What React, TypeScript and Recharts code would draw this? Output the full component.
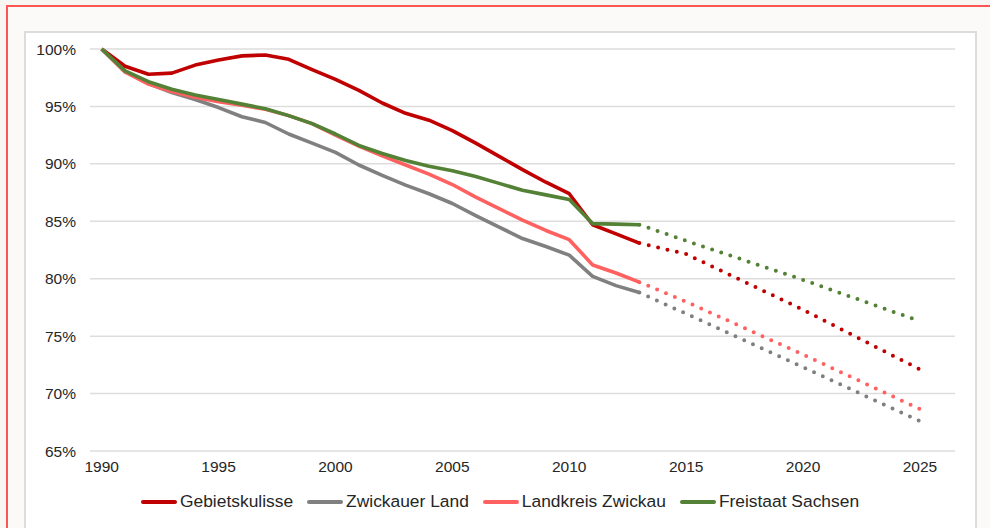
import React from "react";
import { LineChart, Line, XAxis, YAxis, CartesianGrid, Legend } from "recharts";

const years = [1990,1991,1992,1993,1994,1995,1996,1997,1998,1999,2000,2001,2002,2003,2004,2005,2006,2007,2008,2009,2010,2011,2012,2013];
const gebietskulisse = [100,98.5,97.8,97.9,98.6,99.05,99.4,99.48,99.1,98.2,97.35,96.4,95.3,94.4,93.8,92.9,91.8,90.65,89.5,88.4,87.4,84.7,83.9,83.1];
const zwickauerLand = [100,98.0,97.0,96.2,95.6,94.9,94.1,93.6,92.6,91.8,91.0,89.9,89.0,88.15,87.4,86.55,85.5,84.5,83.5,82.8,82.05,80.2,79.4,78.8];
const landkreisZwickau = [100,98.0,96.95,96.3,95.8,95.4,95.1,94.75,94.2,93.5,92.5,91.55,90.7,89.9,89.1,88.2,87.1,86.1,85.1,84.2,83.4,81.2,80.5,79.7];
const freistaatSachsen = [100,98.1,97.15,96.5,96.0,95.6,95.2,94.8,94.2,93.5,92.6,91.6,90.9,90.3,89.8,89.4,88.9,88.3,87.7,87.3,86.9,84.8,84.75,84.7];

const projYears = [2013, 2015, 2020, 2025];
const gebietskulisseProj = [83.1, 82.15, 77.3, 72.1];
const zwickauerLandProj = [78.8, 76.95, 72.3, 67.6];
const landkreisZwickauProj = [79.7, 78.0, 73.4, 68.65];
const freistaatSachsenProj = [84.7, 83.3, 79.9, 76.3];

const xTicks = [1990, 1995, 2000, 2005, 2010, 2015, 2020, 2025];
const yTicks = [65, 70, 75, 80, 85, 90, 95, 100];

const series = [
  { key: "g", name: "Gebietskulisse", color: "#C00000", vals: gebietskulisse, proj: gebietskulisseProj },
  { key: "z", name: "Zwickauer Land", color: "#808080", vals: zwickauerLand, proj: zwickauerLandProj },
  { key: "l", name: "Landkreis Zwickau", color: "#FF6161", vals: landkreisZwickau, proj: landkreisZwickauProj },
  { key: "f", name: "Freistaat Sachsen", color: "#538135", vals: freistaatSachsen, proj: freistaatSachsenProj },
];

const allYears = Array.from(new Set([...years, ...projYears])).sort((a, b) => a - b);
const data = allYears.map((y) => {
  const row: any = { year: y };
  series.forEach((s) => {
    const i = years.indexOf(y);
    if (i >= 0) row[s.key] = s.vals[i];
    const j = projYears.indexOf(y);
    if (j >= 0) row[s.key + "P"] = s.proj[j];
  });
  return row;
});

const font = "'Liberation Sans', Arial, sans-serif";

const LegendContent = () => (
  <div style={{ display: "flex", alignItems: "center", fontFamily: font, fontSize: 17.4, color: "#262626", whiteSpace: "nowrap" }}>
    {series.map((s) => (
      <div key={s.key} style={{ display: "flex", alignItems: "center", marginRight: 14 }}>
        <span style={{ display: "inline-block", width: 36, height: 4, background: s.color, borderRadius: 2, marginRight: 3 }} />
        <span>{s.name}</span>
      </div>
    ))}
  </div>
);

export default function App() {
  return (
    <div style={{ position: "absolute", left: 0, top: 0, width: 990, height: 528, background: "#F7F6F3", overflow: "hidden" }}>
      <div style={{ position: "absolute", left: 6, top: 5, width: 1000, height: 540, borderLeft: "2px solid #FF5555", borderTop: "2px solid #FF5555", background: "#FBFAF8" }} />
      <div style={{ position: "absolute", left: 24, top: 31, width: 949, height: 520, border: "2px solid #DCDCDC", background: "#FFFFFF" }} />
      <div style={{ position: "absolute", left: 0, top: 0 }}>
        <LineChart width={990} height={528} data={data} margin={{ top: 49, right: 35, bottom: 25, left: 30 }}>
          <CartesianGrid vertical={false} stroke="#DDDDDD" strokeWidth={1.5} />
          <XAxis
            dataKey="year"
            type="number"
            domain={[1989.5, 2026.5]}
            ticks={xTicks}
            axisLine={false}
            tickLine={false}
            tickSize={0}
            tickMargin={10}
            height={30}
            tick={{ fill: "#262626", fontSize: 15.5, fontFamily: font }}
          />
          <YAxis
            type="number"
            domain={[65, 100]}
            ticks={yTicks}
            axisLine={false}
            tickLine={false}
            tickSize={0}
            tickMargin={14}
            width={60}
            tickFormatter={(v: number) => `${v}%`}
            tick={{ fill: "#262626", fontSize: 15.5, fontFamily: font }}
          />
          <Legend content={<LegendContent />} wrapperStyle={{ left: 141, top: 491, width: 800, height: 22 }} />
          {series.map((s) => (
            <Line
              key={s.key}
              dataKey={s.key}
              name={s.name}
              stroke={s.color}
              strokeWidth={3.6}
              strokeLinejoin="round"
              dot={false}
              activeDot={false}
              isAnimationActive={false}
              connectNulls={false}
            />
          ))}
          {series.map((s) => (
            <Line
              key={s.key + "P"}
              dataKey={s.key + "P"}
              name={s.name + " Prognose"}
              legendType="none"
              stroke={s.color}
              strokeWidth={4}
              strokeLinecap="round"
              strokeDasharray="0 9.6"
              dot={false}
              activeDot={false}
              isAnimationActive={false}
              connectNulls
            />
          ))}
        </LineChart>
      </div>
    </div>
  );
}
